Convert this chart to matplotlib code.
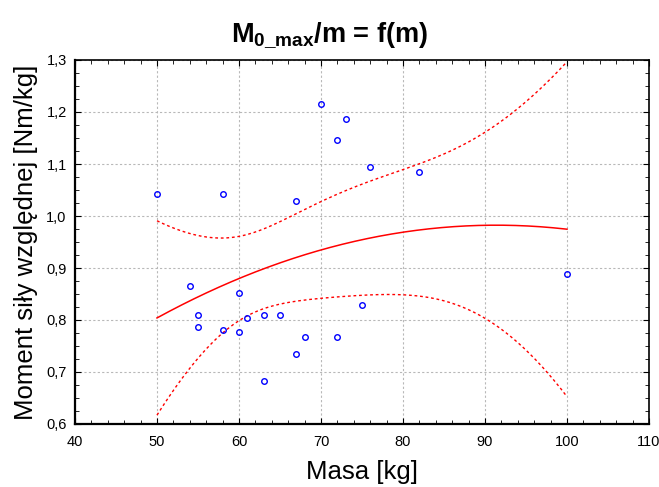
import numpy as np
import matplotlib.pyplot as plt
from matplotlib.ticker import MultipleLocator, FuncFormatter

plt.rcParams['font.family'] = ['Liberation Sans', 'DejaVu Sans']
plt.rcParams['mathtext.fontset'] = 'custom'
plt.rcParams['mathtext.rm'] = 'Liberation Sans:bold'
plt.rcParams['mathtext.bf'] = 'Liberation Sans:bold'

# mass [kg] and relative moment [Nm/kg]
masa = [50, 54, 55, 55, 58, 58, 60, 60, 61, 63, 63, 65,
        67, 67, 68, 70, 72, 72, 73, 75, 76, 82, 100]
moment = [1.043, 0.865, 0.810, 0.787, 1.043, 0.781, 0.852, 0.777, 0.804, 0.810, 0.683, 0.810,
          1.029, 0.735, 0.768, 1.215, 1.146, 0.768, 1.187, 0.828, 1.094, 1.085, 0.889]

x = np.array(masa, dtype=float)
y = np.array(moment)

# quadratic fit with 95% confidence band for the mean
X = np.column_stack((np.ones_like(x), x, x**2))
beta, res, rank, sv = np.linalg.lstsq(X, y, rcond=None)
dof = len(x) - 3
s2 = np.sum((y - X @ beta)**2) / dof
XtX_inv = np.linalg.inv(X.T @ X)
t_crit = 2.086  # t(0.975, 20)

xs = np.linspace(min(masa), max(masa), 200)
Xs = np.column_stack((np.ones_like(xs), xs, xs**2))
ys = Xs @ beta
se = np.sqrt(s2 * np.sum((Xs @ XtX_inv) * Xs, axis=1))
lo = ys - t_crit * se
hi = ys + t_crit * se

fig = plt.figure(figsize=(6.59, 4.87), dpi=100)
ax = fig.add_axes([75/659, 1 - 424/487, 574/659, 364/487])

ax.plot(xs, ys, color='red', lw=1.1)
ax.plot(xs, lo, color='red', lw=1.0, ls=(0, (2, 2)))
ax.plot(xs, hi, color='red', lw=1.0, ls=(0, (2, 2)))
ax.plot(x, y, 'o', mfc='none', mec='blue', ms=4, mew=1.0)

ax.set_xlim(40, 110)
ax.set_ylim(0.6, 1.3)
ax.xaxis.set_major_locator(MultipleLocator(10))
ax.xaxis.set_minor_locator(MultipleLocator(2))
ax.yaxis.set_major_locator(MultipleLocator(0.1))
ax.yaxis.set_minor_locator(MultipleLocator(0.025))
ax.yaxis.set_major_formatter(FuncFormatter(lambda v, p: f'{v:.1f}'.replace('.', ',')))
ax.tick_params(which='both', direction='in', top=True, right=True, labelsize=10.5)
ax.tick_params(which='major', length=4)
ax.tick_params(which='minor', length=3)
ax.tick_params(axis='x', pad=8)
ax.tick_params(axis='y', pad=6)
ax.grid(True, which='major', color='#b8b8b8', ls=(0, (2, 2)), lw=0.8)
for sp in ax.spines.values():
    sp.set_linewidth(1.2)
ax.spines['left'].set_linewidth(1.6)
ax.spines['bottom'].set_linewidth(1.6)

ax.set_xlabel('Masa [kg]', fontsize=18.5, labelpad=8)
ax.set_ylabel('Moment siły względnej [Nm/kg]', fontsize=18.5, labelpad=6)

fig.text(0.5, 1 - 42/487, r'M$_{\mathbf{0\_max}}$/m = f(m)', ha='center', va='baseline',
         fontsize=19.5, fontweight='bold')

fig.savefig('out.png', dpi=100)
